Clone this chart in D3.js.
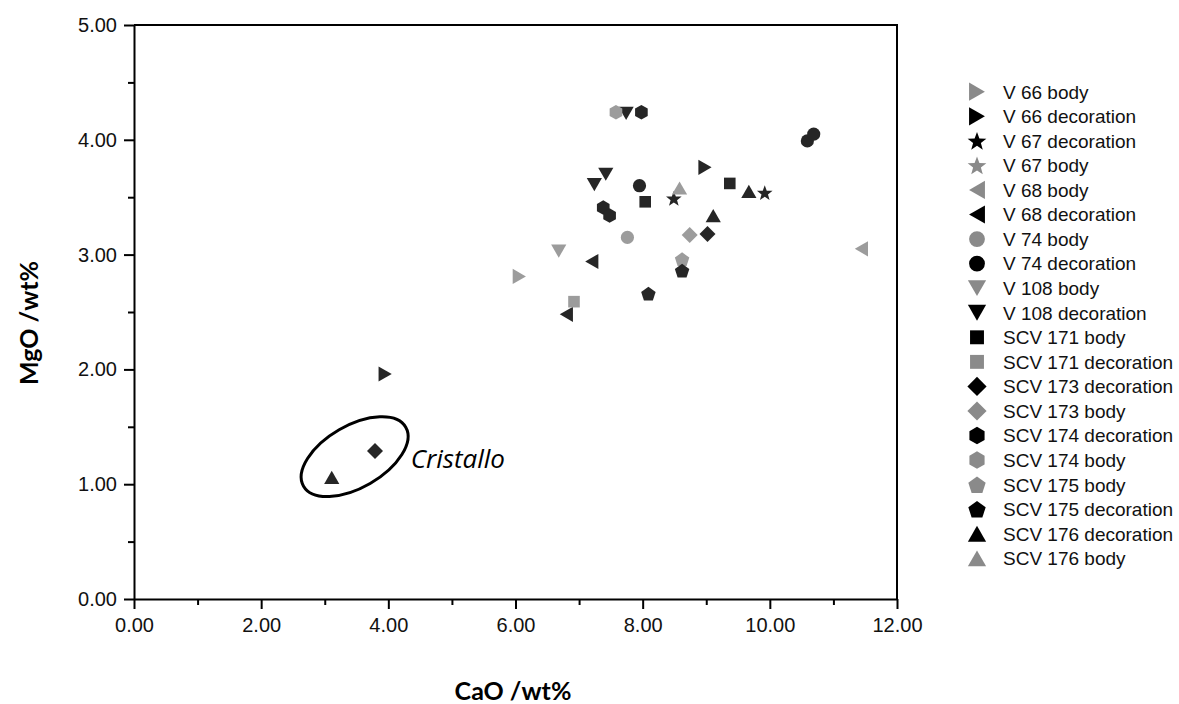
<!DOCTYPE html>
<html>
<head>
<meta charset="utf-8">
<script src="https://cdn.jsdelivr.net/npm/d3@7"></script>
<style>
  html, body { margin: 0; padding: 0; background: #fff; }
  svg { display: block; }
</style>
</head>
<body>
<svg id="chart" width="1179" height="704"></svg>
<script>
// Series labels, in legend order
const seriesNames = [
  "V 66 body", "V 66 decoration", "V 67 decoration", "V 67 body",
  "V 68 body", "V 68 decoration", "V 74 body", "V 74 decoration",
  "V 108 body", "V 108 decoration", "SCV 171 body", "SCV 171 decoration",
  "SCV 173 decoration", "SCV 173 body", "SCV 174 decoration", "SCV 174 body",
  "SCV 175 body", "SCV 175 decoration", "SCV 176 decoration", "SCV 176 body"
];

// CaO (wt%) per series
const caoValues = [
  [6.06], [8.98, 3.95], [8.49, 9.92], [],
  [11.44], [7.20, 6.80], [7.76], [7.95, 10.59, 10.69],
  [6.68], [7.74, 7.42, 7.24], [9.37, 8.04], [6.92],
  [9.02, 3.79], [8.74], [7.98, 7.38, 7.48], [7.58],
  [8.62], [8.62, 8.09], [9.67, 9.11, 3.11], [8.58]
];

// MgO (wt%) per series
const mgoValues = [
  [2.81], [3.76, 1.96], [3.49, 3.54], [],
  [3.05], [2.94, 2.48], [3.15], [3.60, 3.99, 4.05],
  [3.03], [4.23, 3.70, 3.61], [3.62, 3.46], [2.59],
  [3.18, 1.29], [3.17], [4.24, 3.41, 3.34], [4.24],
  [2.96], [2.86, 2.66], [3.55, 3.34, 1.06], [3.58]
];

// Axis tick values
const xMajorTicks = [0, 2, 4, 6, 8, 10, 12];
const xMinorTicks = [1, 3, 5, 7, 9, 11];
const yMajorTicks = [0, 1, 2, 3, 4, 5];
const yMinorTicks = [0.5, 1.5, 2.5, 3.5, 4.5];

// Annotated group (Cristallo glasses)
const groupLabel = "Cristallo";
const groupCenter = [3.47, 1.24];

// Marker shape and tone for each series
const seriesShape = [
  "triRight", "triRight", "star", "star", "triLeft", "triLeft", "circle", "circle",
  "triDown", "triDown", "square", "square", "diamond", "diamond", "hexagon", "hexagon",
  "pentagon", "pentagon", "triUp", "triUp"
];
const seriesTone = [
  "g", "k", "k", "g", "g", "k", "g", "k", "g", "k",
  "k", "g", "k", "g", "k", "g", "g", "k", "k", "g"
];

const svg = d3.select("#chart");
const W = 1179, H = 704;
const margin = { left: 134, right: W - 897, top: 25, bottom: H - 599 };
const plotW = W - margin.left - margin.right;
const plotH = H - margin.top - margin.bottom;

const x = d3.scaleLinear().domain([0, 12]).range([margin.left, margin.left + plotW]);
const y = d3.scaleLinear().domain([0, 5]).range([margin.top + plotH, margin.top]);

const plotTone = { k: "#262626", g: "#9c9c9c" };
const legendTone = { k: "#000000", g: "#8a8a8a" };

// Marker outlines centred on their bounding box
function shapePath(shape, k) {
  const p = d3.path();
  const poly = pts => {
    p.moveTo(pts[0][0] * k, pts[0][1] * k);
    for (let i = 1; i < pts.length; i++) p.lineTo(pts[i][0] * k, pts[i][1] * k);
    p.closePath();
  };
  switch (shape) {
    case "circle": p.arc(0, 0, 6.6 * k, 0, 2 * Math.PI); break;
    case "square": poly([[-5.8, -5.8], [5.8, -5.8], [5.8, 5.8], [-5.8, 5.8]]); break;
    case "diamond": poly([[0, -8], [8, 0], [0, 8], [-8, 0]]); break;
    case "triUp": poly([[0, -6.6], [7.6, 6.6], [-7.6, 6.6]]); break;
    case "triDown": poly([[0, 6.6], [7.6, -6.6], [-7.6, -6.6]]); break;
    case "triRight": poly([[-6.6, -7.6], [6.6, 0], [-6.6, 7.6]]); break;
    case "triLeft": poly([[6.6, -7.6], [-6.6, 0], [6.6, 7.6]]); break;
    case "hexagon": {
      const r = 7.3, pts = [];
      for (let i = 0; i < 6; i++) {
        const a = -Math.PI / 2 + i * Math.PI / 3;
        pts.push([r * Math.cos(a), r * Math.sin(a)]);
      }
      poly(pts); break;
    }
    case "pentagon": {
      const r = 7.6, pts = [];
      for (let i = 0; i < 5; i++) {
        const a = -Math.PI / 2 + i * 2 * Math.PI / 5;
        pts.push([r * Math.cos(a), r * Math.sin(a) + 0.75]);
      }
      poly(pts); break;
    }
    case "star": {
      const ro = 8.2, ri = 3.4, pts = [];
      for (let i = 0; i < 10; i++) {
        const a = -Math.PI / 2 + i * Math.PI / 5;
        const r = i % 2 === 0 ? ro : ri;
        pts.push([r * Math.cos(a), r * Math.sin(a) + 0.8]);
      }
      poly(pts); break;
    }
  }
  return p.toString();
}

// Plot frame (top and right edges)
svg.append("path")
  .attr("d", `M${x(0)},${y(5)}H${x(12)}V${y(0)}`)
  .attr("fill", "none").attr("stroke", "#000").attr("stroke-width", 2);

const tickFont = "'Liberation Sans', Arial, sans-serif";

// X axis
const gx = svg.append("g").attr("transform", `translate(0,${y(0)})`);
gx.call(d3.axisBottom(x).tickValues(xMajorTicks).tickFormat(d3.format(".2f"))
  .tickSize(10).tickPadding(9).tickSizeOuter(0));
gx.append("g").call(d3.axisBottom(x).tickValues(xMinorTicks).tickFormat("").tickSize(6).tickSizeOuter(0))
  .select(".domain").remove();

// Y axis
const gy = svg.append("g").attr("transform", `translate(${x(0)},0)`);
gy.call(d3.axisLeft(y).tickValues(yMajorTicks).tickFormat(d3.format(".2f"))
  .tickSize(10).tickPadding(7).tickSizeOuter(0));
gy.append("g").call(d3.axisLeft(y).tickValues(yMinorTicks).tickFormat("").tickSize(6).tickSizeOuter(0))
  .select(".domain").remove();

svg.selectAll(".domain").attr("stroke", "#000").attr("stroke-width", 2);
svg.selectAll(".tick line").attr("stroke", "#000").attr("stroke-width", 2);
svg.selectAll(".tick text")
  .attr("font-family", tickFont).attr("font-size", 20).attr("fill", "#111");

// Axis titles
svg.append("text")
  .attr("x", 513).attr("y", 700)
  .attr("text-anchor", "middle")
  .attr("font-family", "Lato, 'Open Sans', sans-serif").attr("font-weight", 700)
  .attr("font-size", 25).attr("fill", "#000")
  .text("CaO /wt%");

svg.append("text")
  .attr("transform", `translate(38,${323}) rotate(-90)`)
  .attr("text-anchor", "middle")
  .attr("font-family", "Lato, 'Open Sans', sans-serif").attr("font-weight", 700)
  .attr("font-size", 25).attr("fill", "#000")
  .text("MgO /wt%");

// Data markers
const points = [];
seriesNames.forEach((name, i) => {
  caoValues[i].forEach((c, j) => points.push({ i, cao: c, mgo: mgoValues[i][j] }));
});

svg.append("g").selectAll("path")
  .data(points)
  .join("path")
  .attr("transform", d => `translate(${x(d.cao)},${y(d.mgo)})`)
  .attr("d", d => shapePath(seriesShape[d.i], 1))
  .attr("fill", d => plotTone[seriesTone[d.i]]);

// Cristallo group outline and label
const [gcx, gcy] = [x(groupCenter[0]), y(groupCenter[1])];
svg.append("ellipse")
  .attr("transform", `translate(${gcx},${gcy}) rotate(-30)`)
  .attr("rx", 59).attr("ry", 31)
  .attr("fill", "none").attr("stroke", "#000").attr("stroke-width", 3);

svg.append("text")
  .attr("x", gcx + 56).attr("y", gcy + 11)
  .attr("font-family", "'Open Sans', Lato, sans-serif").attr("font-style", "italic")
  .attr("font-size", 26).attr("fill", "#000")
  .text(groupLabel);

// Legend
const legend = svg.append("g");
const rowY = i => 91.7 + i * 24.56;
const rows = legend.selectAll("g").data(seriesNames).join("g")
  .attr("transform", (d, i) => `translate(977,${rowY(i)})`);
rows.append("path")
  .attr("d", (d, i) => shapePath(seriesShape[i], 1.2))
  .attr("fill", (d, i) => legendTone[seriesTone[i]]);
rows.append("text")
  .attr("x", 26).attr("dy", "0.36em")
  .attr("font-family", tickFont).attr("font-size", 19).attr("fill", "#111")
  .text(d => d);
</script>
</body>
</html>
